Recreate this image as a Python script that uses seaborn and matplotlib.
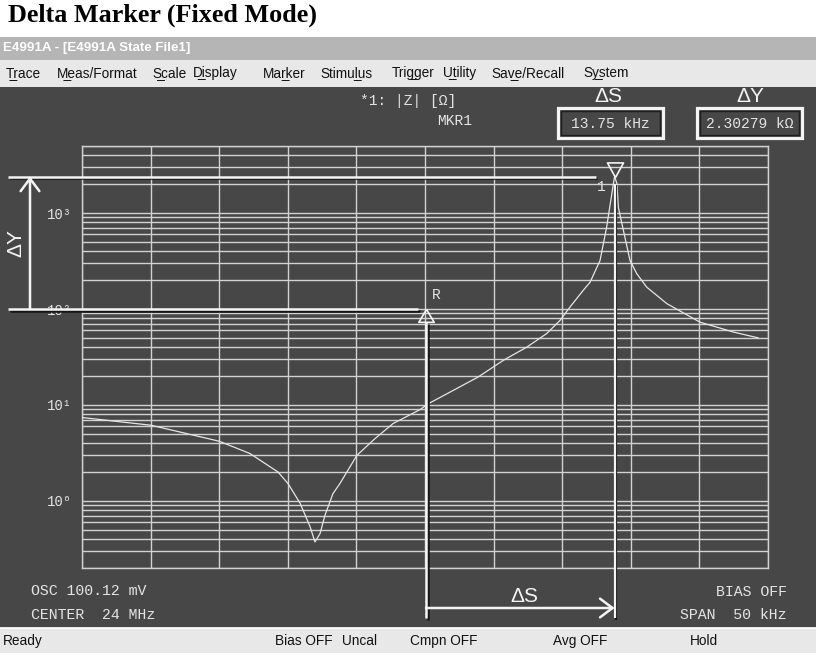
import numpy as np
import pandas as pd
import matplotlib
matplotlib.use("Agg")
import matplotlib.pyplot as plt
import matplotlib.patheffects as pe
from matplotlib.patches import Rectangle
from matplotlib.ticker import LogLocator, NullFormatter, FixedLocator
import seaborn as sns

# ---------------- data ----------------
freq_offset_khz = [-25.0, -19.97, -15.0, -12.76, -10.71, -9.99, -9.11, -8.38, -8.02,
                   -7.65, -7.29, -6.71, -6.20, -4.96, -3.64, -2.33, -0.36, 0.24,
                   2.06, 3.88, 5.71, 7.41, 8.87, 9.84, 10.57, 11.54, 12.03, 12.76,
                   13.24, 13.54, 13.73, 13.82, 13.99, 14.09, 14.46, 14.94, 15.43,
                   16.16, 17.62, 20.04, 22.47, 24.3]
impedance_ohm = [7.4, 6.15, 4.19, 3.12, 2.0, 1.52, 0.95, 0.54, 0.374,
                 0.457, 0.71, 1.19, 1.52, 2.99, 4.47, 6.4, 8.96, 10.3,
                 14.2, 19.6, 29.2, 40.0, 55.5, 76.0, 105, 157, 190, 321,
                 715, 1350, 2024, 2403, 2024, 1150, 661, 321, 234,
                 169, 114, 73, 57.6, 50]

span_khz = 50
x_ticks_khz = [-25, -20, -15, -10, -5, 0, 5, 10, 15, 20, 25]
y_major = [1, 10, 100, 1000]
y_major_labels = ["10\u2070", "10\u00b9", "10\u00b2", "10\u00b3"]
y_limits = [0.2, 5000]

ref_offset_khz = 0.07
ref_value = 100.0
mkr_offset_khz = 13.82
mkr_value = 2402.79
delta_s_text = "13.75 kHz"
delta_y_text = "2.30279 k\u03a9"

title_text = "Delta Marker (Fixed Mode)"
window_title = "E4991A - [E4991A State File1]"
menu_items = ["T\u0332race", "M\u0332eas/Format", "S\u0332cale", "D\u0332isplay", "Mar\u0332ker",
              "Stimul\u0332us", "Trig\u0332ger", "U\u0332tility", "Sav\u0332e/Recall", "Sy\u0332stem"]
menu_x = [6, 57, 152, 193, 263, 320, 392, 443, 491, 583]
status_items = ["Ready", "Bias OFF", "Uncal", "Cmpn OFF", "Avg OFF", "Hold"]
status_x = [3, 275, 342, 410, 553, 690]

# ---------------- style ----------------
DARK = "#474747"
GRID = "#d2d2d2"
WHITE = "#f4f4f4"
TRACE = "#e6e6e6"
TXT = "#e4e4e4"
MONO = ["Liberation Mono", "DejaVu Sans Mono"]
SANS = ["Liberation Sans", "DejaVu Sans"]

sns.set_style("white")
plt.rcParams["font.family"] = SANS

W, H = 816, 653
fig = plt.figure(figsize=(W / 100, H / 100), dpi=100, facecolor="white")

# background / window chrome (pixel coordinates, origin top-left)
bg = fig.add_axes([0, 0, 1, 1], zorder=0)
bg.set_xlim(0, W)
bg.set_ylim(H, 0)
bg.axis("off")
bg.add_patch(Rectangle((0, 37), W, 23, color="#b5b5b5", lw=0))
bg.add_patch(Rectangle((0, 60), W, 27, color="#e8e8e8", lw=0))
bg.add_patch(Rectangle((0, 87), W, 540, color=DARK, lw=0))
bg.add_patch(Rectangle((0, 627), W, 26, color="#e8e8e8", lw=0))
bg.plot([0, W], [627.5, 627.5], color="#fafafa", lw=0.8)

bg.text(8, 22, title_text, family=["Liberation Serif", "DejaVu Serif"], weight="bold",
        fontsize=18.8, color="black", va="baseline", ha="left")
bg.text(3, 48.5, window_title, family=SANS, weight="bold", fontsize=9.6, color="white",
        va="center", ha="left")
for lab, xx in zip(menu_items, menu_x):
    bg.text(xx, 73.5, lab, family=SANS, fontsize=9.8, color="#111111", va="center", ha="left")
for lab, xx in zip(status_items, status_x):
    bg.text(xx, 641, lab, family=SANS, fontsize=9.8, color="#111111", va="center", ha="left")

# screen texts
bg.text(360, 101, "*1: |Z| [\u03a9]", family=MONO, fontsize=10.5, color=TXT, va="center")
bg.text(437, 121, "MKR1", family=MONO, fontsize=10.5, color=TXT, va="center")
bg.text(31, 591, "OSC 100.12 mV", family=MONO, fontsize=10.7, color=TXT, va="center")
bg.text(31, 615, "CENTER  24 MHz", family=MONO, fontsize=10.7, color=TXT, va="center")
bg.text(787, 592, "BIAS OFF", family=MONO, fontsize=10.7, color=TXT, va="center", ha="right")
bg.text(787, 615, "SPAN  50 kHz", family=MONO, fontsize=10.7, color=TXT, va="center", ha="right")

bg.text(608, 97, "\u0394S", family=SANS, fontsize=15, color=WHITE, va="center", ha="center")
bg.text(750, 97, "\u0394Y", family=SANS, fontsize=15, color=WHITE, va="center", ha="center")
for (bx, txt) in [(558, delta_s_text), (697, delta_y_text)]:
    bg.add_patch(Rectangle((bx, 108), 105, 30, fill=False, ec=WHITE, lw=2.3))
    bg.add_patch(Rectangle((bx + 3, 111), 99, 24, fill=False, ec="#1e1e1e", lw=1.0))
    bg.text(bx + 52.5, 123.5, txt, family=MONO, fontsize=10.5, color=TXT, va="center", ha="center")

# ---------------- main plot ----------------
ax = fig.add_axes([82 / W, (H - 568) / H, 686 / W, 422 / H], zorder=2)
ax.set_facecolor(DARK)
df = pd.DataFrame({"offset_khz": freq_offset_khz, "z": impedance_ohm})
sns.lineplot(data=df, x="offset_khz", y="z", ax=ax, color=TRACE, lw=0.9,
             estimator=None, sort=False, legend=False, zorder=3)
ax.set_yscale("log")
ax.set_ylim(*y_limits)
ax.set_xlim(-span_khz / 2, span_khz / 2)
ax.set_xticks(x_ticks_khz)
ax.set_xticklabels([])
ax.tick_params(axis="x", length=0)
ax.yaxis.set_major_locator(FixedLocator(y_major))
ax.set_yticklabels(y_major_labels)
ax.yaxis.set_minor_locator(LogLocator(base=10, subs=np.arange(2, 10), numticks=30))
ax.yaxis.set_minor_formatter(NullFormatter())
ax.tick_params(axis="y", which="major", length=6, width=1, color=GRID, pad=1,
               labelcolor=TXT, labelsize=10)
ax.tick_params(axis="y", which="minor", length=0)
for lbl in ax.get_yticklabels():
    lbl.set_fontfamily(MONO)
ax.grid(True, which="both", axis="y", color=GRID, lw=1.0)
ax.grid(True, which="major", axis="x", color=GRID, lw=1.0)
ax.set_axisbelow(True)
for s in ax.spines.values():
    s.set_color(GRID)
    s.set_linewidth(1.0)
ax.set_xlabel("")
ax.set_ylabel("")

# markers (data coordinates)
tri_up = [(0, 0), (-0.6, -1), (0.6, -1), (0, 0)]
tri_dn = [(0, 0), (-0.55, 1), (0.55, 1), (0, 0)]
ax.plot([ref_offset_khz], [ref_value], marker=tri_up, ms=18.5, mfc="none", mec=WHITE,
        mew=1.2, ls="none", clip_on=False, zorder=6)
ax.plot([mkr_offset_khz], [mkr_value], marker=tri_dn, ms=21, mfc="none", mec=WHITE,
        mew=1.2, ls="none", clip_on=False, zorder=6)

# ---------------- overlay annotations ----------------
ov = fig.add_axes([0, 0, 1, 1], zorder=4)
ov.set_xlim(0, W)
ov.set_ylim(H, 0)
ov.axis("off")
ov.patch.set_alpha(0)


def to_px(x, y):
    d = ax.transData.transform((x, y))
    return ov.transData.inverted().transform(d)


rx, ry = to_px(ref_offset_khz, ref_value)
mx, my = to_px(mkr_offset_khz, mkr_value)
shadow = [pe.SimpleLineShadow(offset=(1.3, -1.3), shadow_color="#151515", alpha=1.0), pe.Normal()]

ov.plot([8, mx - 19], [my, my], color=WHITE, lw=1.8, path_effects=shadow, solid_capstyle="butt")
ov.plot([8, rx - 8], [ry, ry], color=WHITE, lw=1.8, path_effects=shadow, solid_capstyle="butt")
ov.annotate("", xy=(30, my), xytext=(30, ry),
            arrowprops=dict(arrowstyle="->,head_length=0.6,head_width=0.45", color=WHITE,
                            lw=1.8, shrinkA=0, shrinkB=0, mutation_scale=15))
ov.text(15.5, (ry + my) / 2, "\u0394Y", rotation=90, family=SANS, fontsize=15, color=WHITE,
        va="center", ha="center")

ov.plot([rx, rx], [ry + 13, 618], color=WHITE, lw=1.8, path_effects=shadow, solid_capstyle="butt")
ov.plot([mx, mx], [my + 7, 618], color=WHITE, lw=1.6, path_effects=shadow, solid_capstyle="butt")
ov.annotate("", xy=(mx, 608), xytext=(rx, 608),
            arrowprops=dict(arrowstyle="->,head_length=0.6,head_width=0.45", color=WHITE,
                            lw=1.8, shrinkA=0, shrinkB=0, mutation_scale=15))
ov.text((rx + mx) / 2 + 4, 597, "\u0394S", family=SANS, fontsize=15, color=WHITE,
        va="center", ha="center")
ov.text(rx + 10, ry - 14, "R", family=MONO, fontsize=10.5, color=TXT, va="center", ha="center")
ov.text(mx - 13, my + 10, "1", family=MONO, fontsize=10.5, color=TXT, va="center", ha="center")

fig.savefig("out.png", dpi=100, facecolor="white")
